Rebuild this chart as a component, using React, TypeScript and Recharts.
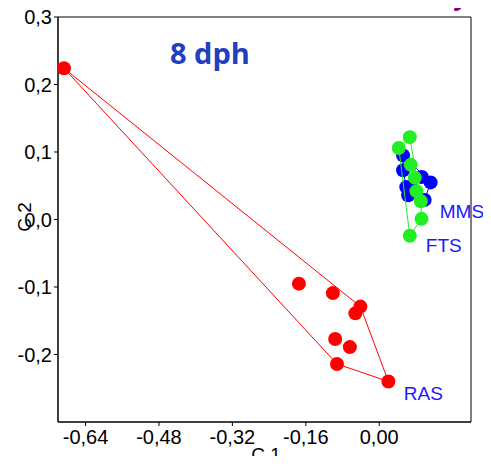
import React from "react";
import {
  ComposedChart,
  Scatter,
  XAxis,
  YAxis,
  ReferenceArea,
} from "recharts";

// group scores (C1, C2)
const rasPoints = [
  { x: -0.687, y: 0.224 },
  { x: -0.175, y: -0.095 },
  { x: -0.101, y: -0.109 },
  { x: -0.041, y: -0.129 },
  { x: -0.052, y: -0.139 },
  { x: -0.096, y: -0.177 },
  { x: -0.064, y: -0.189 },
  { x: -0.092, y: -0.214 },
  { x: 0.02, y: -0.24 },
];

const mmsPoints = [
  { x: 0.052, y: 0.095 },
  { x: 0.052, y: 0.073 },
  { x: 0.059, y: 0.048 },
  { x: 0.063, y: 0.036 },
  { x: 0.093, y: 0.063 },
  { x: 0.112, y: 0.055 },
  { x: 0.099, y: 0.029 },
  { x: 0.075, y: 0.043 },
];

const ftsPoints = [
  { x: 0.0666, y: 0.122 },
  { x: 0.0426, y: 0.106 },
  { x: 0.0688, y: 0.081 },
  { x: 0.0775, y: 0.062 },
  { x: 0.0812, y: 0.042 },
  { x: 0.0906, y: 0.027 },
  { x: 0.0921, y: 0.001 },
  { x: 0.0666, y: -0.024 },
];

const groupLabels = [
  { x: 0.132, y: 0.012, name: "MMS" },
  { x: 0.1016, y: -0.0386, name: "FTS" },
  { x: 0.0535, y: -0.258, name: "RAS" },
];

const xTicks = [-0.64, -0.48, -0.32, -0.16, 0];
const yTicks = [-0.2, -0.1, 0, 0.1, 0.2, 0.3];

type Pt = { x: number; y: number };

// closed convex hull (monotone chain)
function hull(pts: Pt[]): Pt[] {
  const p = [...pts].sort((a, b) => a.x - b.x || a.y - b.y);
  const cross = (o: Pt, a: Pt, b: Pt) =>
    (a.x - o.x) * (b.y - o.y) - (a.y - o.y) * (b.x - o.x);
  const lower: Pt[] = [];
  for (const q of p) {
    while (lower.length >= 2 && cross(lower[lower.length - 2], lower[lower.length - 1], q) <= 0) lower.pop();
    lower.push(q);
  }
  const upper: Pt[] = [];
  for (let i = p.length - 1; i >= 0; i--) {
    const q = p[i];
    while (upper.length >= 2 && cross(upper[upper.length - 2], upper[upper.length - 1], q) <= 0) upper.pop();
    upper.push(q);
  }
  const h = lower.slice(0, -1).concat(upper.slice(0, -1));
  return [...h, h[0]];
}

const FONT = "Liberation Sans, Arial, sans-serif";

const dot = (color: string) => (props: any) =>
  <circle cx={props.cx} cy={props.cy} r={7} fill={color} />;

const noDot = () => <g />;

const labelShape = (props: any) => (
  <text
    x={props.cx}
    y={props.cy}
    fill="#1a1aff"
    fontSize={19}
    fontFamily={FONT}
    dominantBaseline="central"
  >
    {props.payload.name}
  </text>
);

const fmt = (d: number) => (v: number) => v.toFixed(d).replace(".", ",");

const tickStyle = { fill: "#000", fontSize: 20, fontFamily: FONT };

export default function App() {
  return (
    <div style={{ position: "relative", margin: -8, width: 491, height: 464, background: "#fff", overflow: "hidden" }}>
      <ComposedChart
        width={491}
        height={464}
        margin={{ top: 17, right: 20, bottom: 0, left: 8 }}
      >
        <XAxis
          type="number"
          dataKey="x"
          domain={[-0.7, 0.2]}
          ticks={xTicks}
          tickFormatter={fmt(2)}
          tick={{ ...tickStyle, dy: 2 }}
          tickSize={4}
          height={42}
          stroke="#000"
          label={() => (
            <text x={266} y={454} textAnchor="middle" dominantBaseline="central" fontSize={19} fontFamily={FONT} fill="#000">
              C 1
            </text>
          )}
        />
        <YAxis
          type="number"
          dataKey="y"
          domain={[-0.3, 0.3]}
          ticks={yTicks}
          tickFormatter={fmt(1)}
          tick={tickStyle}
          tickSize={4}
          width={50}
          stroke="#000"
          label={() => (
            <text
              x={24}
              y={217}
              transform="rotate(-90 24 217)"
              textAnchor="middle"
              dominantBaseline="central"
              fontSize={19}
              fontFamily={FONT}
              fill="#000"
            >
              C 2
            </text>
          )}
        />
        <ReferenceArea x1={-0.7} x2={0.2} y1={-0.3} y2={0.3} fill="none" stroke="#000" strokeWidth={1} />
        <Scatter data={hull(rasPoints)} line={{ stroke: "#ff0000", strokeWidth: 1 }} shape={noDot} isAnimationActive={false} />
        <Scatter data={rasPoints} shape={dot("#ff0000")} isAnimationActive={false} />
        <Scatter data={hull(mmsPoints)} line={{ stroke: "#0000ff", strokeWidth: 1 }} shape={noDot} isAnimationActive={false} />
        <Scatter data={mmsPoints} shape={dot("#0000ff")} isAnimationActive={false} />
        <Scatter data={hull(ftsPoints)} line={{ stroke: "#22ee22", strokeWidth: 1 }} shape={noDot} isAnimationActive={false} />
        <Scatter data={ftsPoints} shape={dot("#22ee22")} isAnimationActive={false} />
        <Scatter data={groupLabels} shape={labelShape} isAnimationActive={false} />
      </ComposedChart>
      <div
        style={{
          position: "absolute",
          left: 170,
          top: 37,
          fontFamily: "'Open Sans', sans-serif",
          fontWeight: 700,
          fontSize: 29,
          color: "#2040c0",
          lineHeight: "32px",
          whiteSpace: "nowrap",
        }}
      >
        8 dph
      </div>
      <div
        style={{
          position: "absolute",
          left: 456,
          top: -20,
          fontFamily: "'Open Sans', sans-serif",
          fontWeight: 700,
          fontStyle: "italic",
          fontSize: 26,
          color: "#800080",
          lineHeight: "30px",
        }}
      >
        y
      </div>
    </div>
  );
}
